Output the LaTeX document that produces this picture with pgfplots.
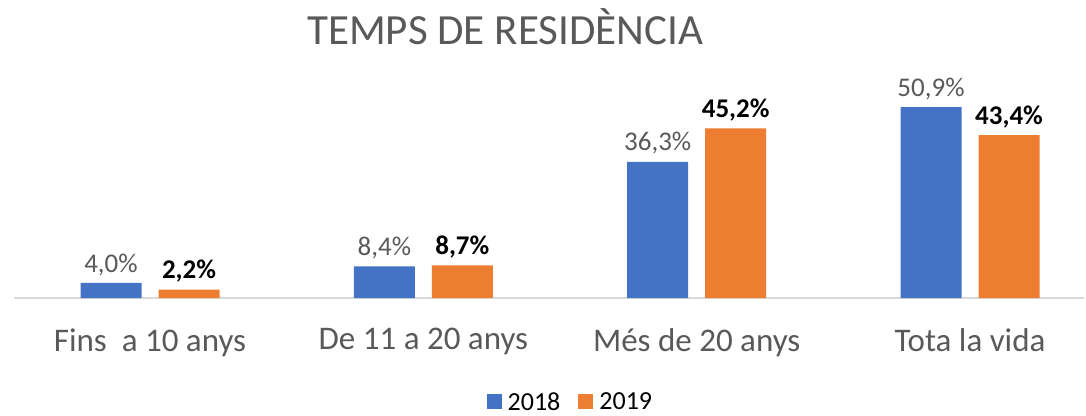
\documentclass[border=0pt]{standalone}
\usepackage{pgfplots}
\pgfplotsset{compat=1.18}
\usepackage{fontspec}
\setmainfont{Carlito}
\definecolor{cblue}{HTML}{4472C4}
\definecolor{corange}{HTML}{ED7D31}
\definecolor{ctext}{HTML}{595959}
\definecolor{caxis}{HTML}{D9D9D9}
\begin{document}
\begin{tikzpicture}[x=1pt,y=1pt]
\useasboundingbox (0,0) rectangle (1086,415);
\begin{axis}[
  at={(14pt,117pt)}, anchor=south west,
  scale only axis, width=1070pt, height=225pt,
  xmin=-0.4976, xmax=3.417, ymin=0, ymax=60,
  clip=false,
  axis line style={draw=none},
  axis x line*=bottom,
  hide y axis,
  ytick=\empty,
  xtick={0,1,2,3},
  xticklabels={Fins\ \ a 10 anys, De 11 a 20 anys, Més de 20 anys, Tota la vida},
  major tick length=0pt,
  xticklabel style={font=\fontsize{33}{38}\selectfont, text=ctext, yshift=-27pt},
  ybar, bar width=61pt,
  /pgf/number format/assume math mode=true,
  nodes near coords={\pgfmathprintnumber[use comma,fixed,fixed zerofill,precision=1]{\pgfplotspointmeta}\%},
  title={TEMPS DE RESIDÈNCIA},
  title style={at={(rel axis cs:0.459,1.180)}, anchor=center, font=\fontsize{43}{48}\selectfont, text=ctext},
  legend style={at={(rel axis cs:0.52,-0.462)}, anchor=center, draw=none, fill=none,
     legend columns=2, font=\fontsize{26}{30}\selectfont, text=black,
     /tikz/every even column/.append style={column sep=16pt}},
  legend image code/.code={\fill[#1] (0pt,-7.5pt) rectangle (15pt,7.5pt); \path (19pt,0pt);},
]
\draw[caxis, line width=1.5pt] (rel axis cs:0,0) -- (rel axis cs:1,0);
\addplot[fill=cblue, draw=none, bar shift=-39pt,
  every node near coord/.append style={font=\fontsize{27}{32}\selectfont, text=ctext, yshift=4pt}]
  coordinates {(0,4.0) (1,8.4) (2,36.3) (3,50.9)};
\addplot[fill=corange, draw=none, bar shift=39pt,
  every node near coord/.append style={font=\fontsize{27}{32}\selectfont\bfseries, text=black, yshift=4pt}]
  coordinates {(0,2.2) (1,8.7) (2,45.2) (3,43.4)};
\legend{2018,2019}
\end{axis}
\end{tikzpicture}
\end{document}
